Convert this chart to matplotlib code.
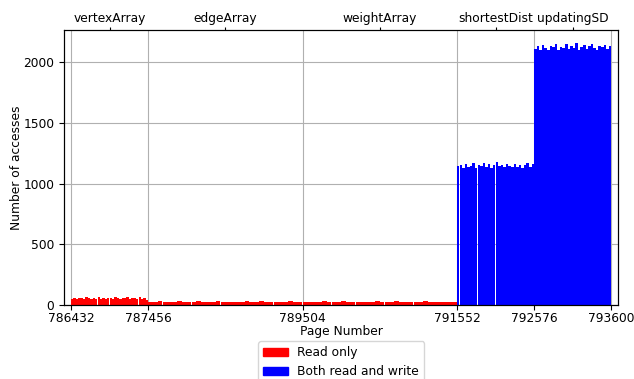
import matplotlib
matplotlib.use("Agg")
import matplotlib.pyplot as plt
from matplotlib.patches import Patch
import numpy as np

# page boundaries of each array and its access type
bounds = [786432, 787456, 789504, 791552, 792576, 793600]
regions = ["vertexArray", "edgeArray", "weightArray", "shortestDist", "updatingSD"]
kinds = ["read", "read", "read", "rw", "rw"]

vertex_counts = [52, 58, 49, 61, 55, 47, 63, 57, 50, 60, 54, 66, 48, 59, 53, 62,
                 56, 51, 64, 58, 49, 61, 55, 67, 52, 57, 60, 50, 63, 54, 58, 46]
edge_counts = [28, 24, 30, 26, 22, 29, 31, 25, 27, 23, 30, 26, 28, 24, 32, 27,
               25, 29, 23, 28, 30, 26, 24, 31, 27, 22, 29, 25, 28, 30, 24, 27]
weight_counts = [26, 29, 23, 28, 31, 25, 27, 24, 30, 26, 28, 22, 29, 27, 25, 31,
                 24, 28, 26, 30, 23, 27, 29, 25, 28, 32, 24, 26, 29, 23, 27, 25]
shortest_counts = [1140, 1155, 1128, 1162, 1135, 1148, 1170, 1131, 1152, 1143,
                   1166, 1137, 1158, 1129, 1150, 1173, 1141, 1156, 1134, 1160,
                   1146, 1132, 1163, 1139, 1154, 1127, 1149, 1168, 1136, 1157]
updating_counts = [2110, 2128, 2095, 2140, 2116, 2102, 2135, 2122, 2150, 2098,
                   2126, 2112, 2144, 2105, 2131, 2118, 2155, 2100, 2124, 2137,
                   2108, 2129, 2146, 2114, 2099, 2133, 2120, 2141, 2106, 2127]
counts = [vertex_counts, edge_counts, weight_counts, shortest_counts, updating_counts]

colors = {"read": "#ff0000", "rw": "#0000ff"}
labels = {"read": "Read only", "rw": "Both read and write"}

plt.rcParams["font.size"] = 8.8

fig = plt.figure(figsize=(6.34, 3.79), dpi=100)
ax = fig.add_axes([0.101, 0.195, 0.874, 0.726])

for i, vals in enumerate(counts):
    lo, hi = bounds[i], bounds[i + 1]
    step = (hi - lo) / len(vals)
    xs = lo + step * np.arange(len(vals))
    ax.bar(xs, vals, width=step * 0.97, align="edge",
           color=colors[kinds[i]], linewidth=0, zorder=2)

ax.set_xlim(786340, 793690)
ax.set_ylim(0, 2263)
ax.set_xticks(bounds)
ax.set_xticklabels([str(b) for b in bounds])
ax.set_yticks([0, 500, 1000, 1500, 2000])
ax.tick_params(axis="x", pad=1.5)
ax.grid(True, color="#b0b0b0", linewidth=0.8, zorder=0)
ax.set_axisbelow(True)
ax.set_xlabel("Page Number", labelpad=0)
ax.set_ylabel("Number of accesses", labelpad=0)

top = ax.twiny()
top.set_xlim(ax.get_xlim())
centers = [(bounds[i] + bounds[i + 1]) / 2 for i in range(len(regions))]
top.set_xticks(centers)
top.set_xticklabels(regions)
top.tick_params(axis="x", length=2, pad=1.6)

handles = [Patch(color=colors["read"], label=labels["read"]),
           Patch(color=colors["rw"], label=labels["rw"])]
ax.legend(handles=handles, loc="upper center", bbox_to_anchor=(0.5, -0.11),
          ncol=1, frameon=True)

fig.savefig("out.png", dpi=100)
